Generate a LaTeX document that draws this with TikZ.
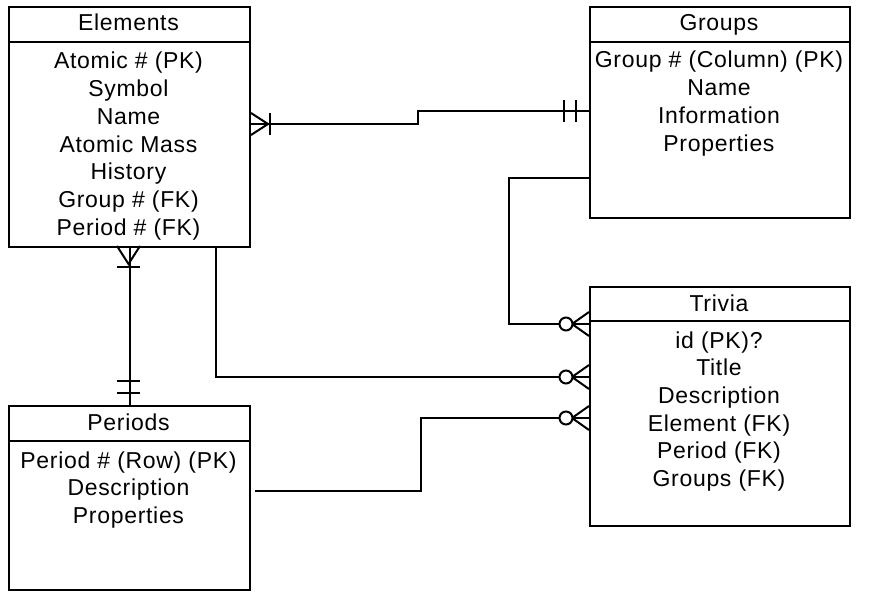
\documentclass[tikz,border=0pt]{standalone}
\usepackage{fontspec}
\setmainfont[LetterSpace=3.0]{Liberation Sans}
\begin{document}
\begin{tikzpicture}[x=1pt,y=-1pt,line width=2pt,line join=miter,
  box/.style={draw,line width=2pt,anchor=north west,inner sep=0pt},
  row/.style={font=\fontsize{23}{28}\selectfont,anchor=base,inner sep=0pt},
  ring/.style={draw,fill=white,line width=2pt,circle,minimum size=13pt,inner sep=0pt}]
\useasboundingbox (0,0) rectangle (873,602);

% boxes
\node[box,minimum width=241pt,minimum height=240pt] (E) at (8,6) {};
\node[box,minimum width=260pt,minimum height=211pt] (G) at (589,6) {};
\node[box,minimum width=260pt,minimum height=239pt] (T) at (589,286) {};
\node[box,minimum width=241pt,minimum height=184pt] (P) at (8,405) {};

% header dividers
\draw ([yshift=-36pt]E.north west) -- ([yshift=-36pt]E.north east);
\draw ([yshift=-36pt]G.north west) -- ([yshift=-36pt]G.north east);
\draw ([yshift=-35pt]T.north west) -- ([yshift=-35pt]T.north east);
\draw ([yshift=-36pt]P.north west) -- ([yshift=-36pt]P.north east);

% headers
\node[row] (Eh) at (128.5,31) {Elements};
\node[row] (Gh) at (719,31) {Groups};
\node[row] (Th) at (719,311) {Trivia};
\node[row] (Ph) at (128.5,430) {Periods};

% rows
\foreach \t [count=\i] in {Atomic \# (PK),Symbol,Name,Atomic Mass,History,Group \# (FK),Period \# (FK)}
  \node[row] (E\i) at (128.5,{69+27.7*(\i-1)}) {\t};
\foreach \t [count=\i] in {Group \# (Column) (PK),Name,Information,Properties}
  \node[row] (G\i) at (719,{68+27.7*(\i-1)}) {\t};
\foreach \t [count=\i] in {id (PK)?,Title,Description,Element (FK),Period (FK),Groups (FK)}
  \node[row] (T\i) at (719,{348+27.7*(\i-1)}) {\t};
\foreach \t [count=\i] in {Period \# (Row) (PK),Description,Properties}
  \node[row] (P\i) at (128.5,{468+27.7*(\i-1)}) {\t};

% connector Elements - Groups
\draw (E.east |- 0,124) -- (418,124) -- (418,111) -- (G.west |- 0,111);
\draw (E.east |- 0,113) -- (268,124) -- (E.east |- 0,135);
\draw (270,113) -- (270,135);
\draw (564,100) -- (564,122);
\draw (576,100) -- (576,122);

% connector Elements - Periods
\draw (E.south) -- (P.north);
\draw (117,246) -- (128.5,264) -- (140,246);
\draw (117,267) -- (140,267);
\draw (117,381) -- (140,381);
\draw (117,393) -- (140,393);

% connector Groups - Trivia
\draw (G.west |- 0,178) -- (509,178) -- (509,324) -- (T.west |- 0,324);
\draw (T.west |- 0,312) -- (572,324) -- (T.west |- 0,336);
\node[ring] (r1) at (566,324) {};

% connector Elements - Trivia
\draw (E.south -| 216,0) -- (216,377) -- (T.west |- 0,377);
\draw (T.west |- 0,365) -- (572,377) -- (T.west |- 0,389);
\node[ring] (r2) at (566,377) {};

% connector Periods - Trivia
\coordinate (p5) at (255,491);
\draw (p5) -- (421,491) -- (421,418) -- (T.west |- 0,418);
\draw (T.west |- 0,406) -- (572,418) -- (T.west |- 0,430);
\node[ring] (r3) at (566,418) {};
\end{tikzpicture}
\end{document}
